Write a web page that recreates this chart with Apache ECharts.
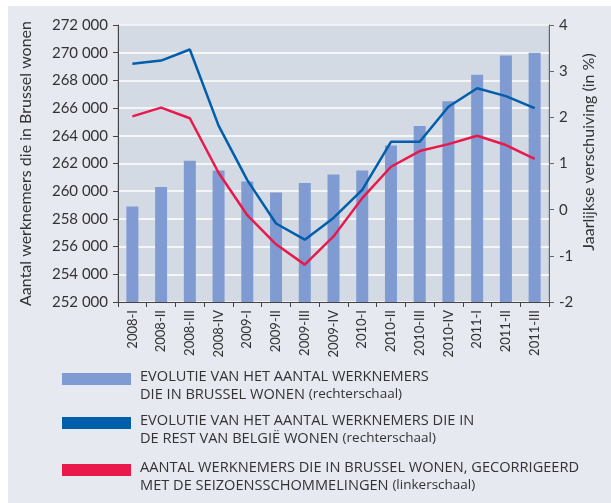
<!DOCTYPE html>
<html>
<head>
<meta charset="utf-8">
<script src="https://cdn.jsdelivr.net/npm/echarts@6/dist/echarts.min.js"></script>
<style>
  html, body { margin: 0; padding: 0; background: #fff; }
  #chart { width: 611px; height: 503px; }
</style>
</head>
<body>
<div id="chart"></div>
<script>
// Kwartalen
const quarters = ['2008-I', '2008-II', '2008-III', '2008-IV', '2009-I', '2009-II', '2009-III', '2009-IV',
    '2010-I', '2010-II', '2010-III', '2010-IV', '2011-I', '2011-II', '2011-III'];

// Aantal werknemers die in Brussel wonen (linkeras)
const brusselCount = [258900, 260300, 262200, 261500, 260700, 259900, 260600, 261200,
    261500, 263300, 264700, 266500, 268400, 269800, 270000];

// Jaarlijkse verschuiving in % (rechteras)
const restBelgie = [3.16, 3.23, 3.47, 1.82, 0.64, -0.30, -0.65, -0.18,
    0.43, 1.47, 1.47, 2.23, 2.63, 2.46, 2.20];
const brusselCorr = [2.02, 2.21, 1.98, 0.80, -0.12, -0.75, -1.19, -0.58,
    0.25, 0.93, 1.27, 1.42, 1.60, 1.40, 1.10];

const leftTicks = { min: 252000, max: 272000, interval: 2000 };
const rightTicks = { min: -2, max: 4, interval: 1 };

// legenda: [hoofdletters regel 1, hoofdletters regel 2, schaal]
const legendItems = [
    { color: '#7f9bd1', lines: ['EVOLUTIE VAN HET AANTAL WERKNEMERS', 'DIE IN BRUSSEL WONEN '], scale: '(rechterschaal)' },
    { color: '#005eab', lines: ['EVOLUTIE VAN HET AANTAL WERKNEMERS DIE IN', 'DE REST VAN BELGIË WONEN '], scale: '(rechterschaal)' },
    { color: '#e9194b', lines: ['AANTAL WERKNEMERS DIE IN BRUSSEL WONEN, GECORRIGEERD', 'MET DE SEIZOENSSCHOMMELINGEN '], scale: '(linkerschaal)' }
];

const FONT = 'Lato, "Open Sans", sans-serif';
const LEGEND_FONT = '"Open Sans", sans-serif';
const TEXT = '#333';

const chart = echarts.init(document.getElementById('chart'));

const legendTops = [373, 417, 464];
const graphics = [
    { type: 'rect', z: -100, shape: { x: 8, y: 6, width: 603, height: 497 }, style: { fill: '#e6e9f0' } },
    {
        type: 'text', x: 589, y: 152, rotation: Math.PI / 2,
        style: {
            text: 'Jaarlijkse verschuiving (in %)', fill: TEXT, font: '16px ' + FONT,
            align: 'center', verticalAlign: 'middle'
        }
    }
];
legendItems.forEach((item, i) => {
    graphics.push({ type: 'rect', shape: { x: 62, y: legendTops[i], width: 69, height: 12 }, style: { fill: item.color } });
    graphics.push({
        type: 'text', left: 140, top: legendTops[i] - 4,
        style: {
            text: '{c|' + item.lines[0] + '}\n{c|' + item.lines[1] + '}{l|' + item.scale + '}',
            rich: {
                c: { fontFamily: LEGEND_FONT, fontSize: 14.6, fill: TEXT, lineHeight: 18 },
                l: { fontFamily: LEGEND_FONT, fontSize: 13.5, fill: TEXT, lineHeight: 18 }
            }
        }
    });
});

chart.setOption({
    backgroundColor: '#fff',
    animation: false,
    textStyle: { fontFamily: FONT },
    grid: {
        left: 118, right: 62, top: 25, bottom: 201,
        show: true, backgroundColor: '#d3dae4', borderColor: '#a3abb8', borderWidth: 1
    },
    xAxis: {
        type: 'category',
        data: quarters,
        axisLine: { onZero: false, lineStyle: { color: '#444', width: 1 } },
        axisTick: { show: true, length: 5, lineStyle: { color: '#444' } },
        axisLabel: { rotate: 90, fontSize: 13, color: TEXT, margin: 8, interval: 0 }
    },
    yAxis: [
        {
            type: 'value', position: 'left',
            min: leftTicks.min, max: leftTicks.max, interval: leftTicks.interval,
            name: 'Aantal werknemers die in Brussel wonen',
            nameLocation: 'middle', nameGap: 84, nameRotate: 90,
            nameTextStyle: { fontSize: 16, color: TEXT },
            axisLine: { show: true, lineStyle: { color: '#444' } },
            axisTick: { show: true, length: 5, lineStyle: { color: '#444' } },
            axisLabel: {
                fontSize: 15, color: TEXT, margin: 10,
                formatter: v => String(v).replace(/(\d{3})$/, ' $1')
            },
            splitLine: { lineStyle: { color: '#ffffff', width: 1.5 } }
        },
        {
            type: 'value', position: 'right',
            min: rightTicks.min, max: rightTicks.max, interval: rightTicks.interval,
            axisLine: { show: true, lineStyle: { color: '#666' } },
            axisTick: { show: true, length: 5, lineStyle: { color: '#666' } },
            axisLabel: { fontSize: 15, color: TEXT, margin: 10 },
            splitLine: { show: false }
        }
    ],
    series: [
        {
            name: 'Brussel', type: 'bar', yAxisIndex: 0,
            data: brusselCount, barWidth: 12,
            itemStyle: { color: '#7f9bd1' }
        },
        {
            name: 'Rest van België', type: 'line', yAxisIndex: 1,
            data: restBelgie, symbol: 'none',
            lineStyle: { color: '#005eab', width: 2.5 }
        },
        {
            name: 'Brussel gecorrigeerd', type: 'line', yAxisIndex: 1,
            data: brusselCorr, symbol: 'none',
            lineStyle: { color: '#e9194b', width: 2.5 }
        }
    ],
    graphic: { elements: graphics }
});
</script>
</body>
</html>
